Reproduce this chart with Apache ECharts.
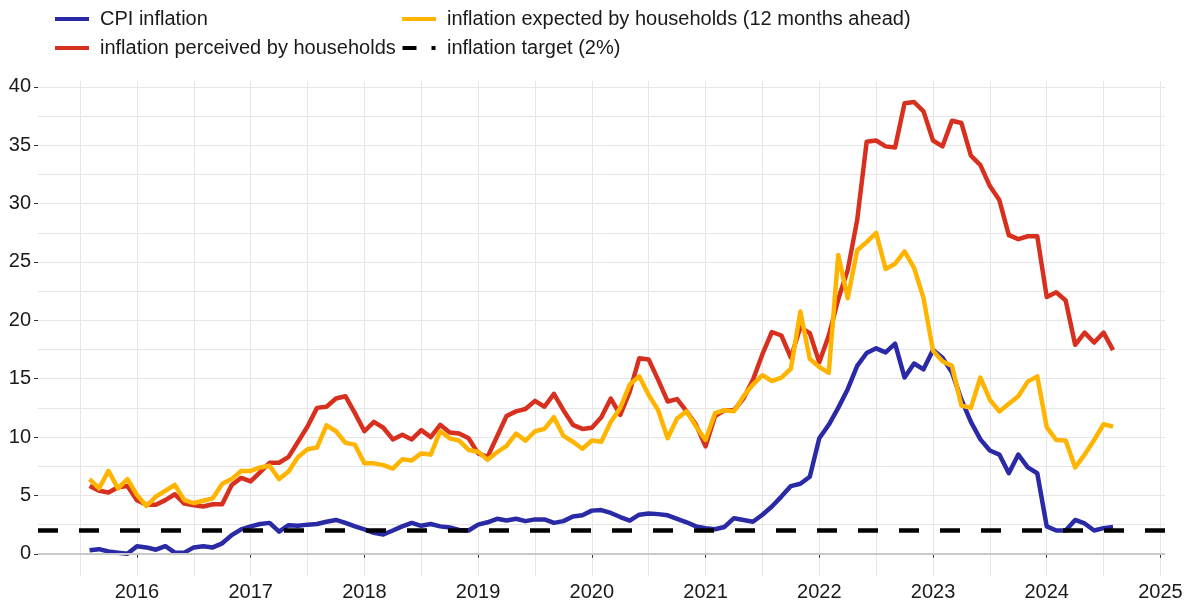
<!DOCTYPE html>
<html>
<head>
<meta charset="utf-8">
<title>Inflation perceived and expected by households</title>
<script src="https://cdn.jsdelivr.net/npm/echarts@6/dist/echarts.min.js"></script>
<style>
  html, body { margin: 0; padding: 0; background: #fff; }
  #main { width: 1190px; height: 602px; }
</style>
</head>
<body>
<div id="main"></div>
<script type="text/javascript">
// monthly observations, Aug 2015 .. Aug 2024
var startYear = 2015, startMonth = 8, nMonths = 109;
var months = [];
for (var i = 0; i < nMonths; i++) {
  var m = startMonth - 1 + i;
  var y = startYear + Math.floor(m / 12);
  var mm = (m % 12) + 1;
  months.push(y + '-' + (mm < 10 ? '0' + mm : mm));
}

var cpi = [0.3, 0.4, 0.2, 0.1, 0.0, 0.65, 0.55, 0.35, 0.65, 0.1, 0.1, 0.55,
  0.65, 0.55, 0.9, 1.6, 2.1, 2.35, 2.55, 2.65, 1.9, 2.45, 2.4, 2.5,
  2.55, 2.75, 2.9, 2.65, 2.35, 2.1, 1.8, 1.65, 2.0, 2.35, 2.65, 2.4,
  2.55, 2.35, 2.25, 2.05, 2.0, 2.5, 2.7, 3.0, 2.85, 3.0, 2.8, 2.95,
  2.95, 2.65, 2.8, 3.2, 3.3, 3.7, 3.75, 3.5, 3.15, 2.85, 3.35, 3.45,
  3.4, 3.3, 3.0, 2.7, 2.35, 2.2, 2.1, 2.3, 3.05, 2.9, 2.75, 3.35,
  4.05, 4.9, 5.8, 6.0, 6.6, 9.9, 11.05, 12.5, 14.1, 16.1, 17.2, 17.6,
  17.25, 18.0, 15.1, 16.3, 15.8, 17.45, 16.8, 15.55, 13.2, 11.3, 9.8, 8.85,
  8.5, 6.9, 8.5, 7.4, 6.9, 2.35, 2.0, 2.0, 2.9, 2.6, 2.0, 2.2, 2.3];

var perceived = [5.8, 5.4, 5.25, 5.7, 5.8, 4.6, 4.2, 4.2, 4.6, 5.1, 4.3, 4.15,
  4.05, 4.25, 4.25, 5.9, 6.5, 6.2, 7.0, 7.8, 7.8, 8.3, 9.6, 10.9,
  12.5, 12.6, 13.3, 13.5, 12.05, 10.5, 11.3, 10.8, 9.8, 10.2, 9.8, 10.6,
  10.0, 11.05, 10.4, 10.3, 9.9, 8.6, 8.3, 10.05, 11.8, 12.2, 12.4, 13.1,
  12.6, 13.7, 12.3, 11.05, 10.7, 10.8, 11.7, 13.3, 11.9, 13.9, 16.75, 16.65,
  14.9, 13.05, 13.25, 12.2, 11.05, 9.2, 11.8, 12.3, 12.3, 13.3, 14.9, 17.1,
  19.0, 18.7, 16.8, 19.4, 18.9, 16.4, 18.7, 21.8, 24.3, 28.6, 35.3, 35.4,
  34.9, 34.8, 38.6, 38.7, 37.9, 35.4, 34.9, 37.1, 36.9, 34.1, 33.3, 31.5,
  30.3, 27.3, 26.95, 27.2, 27.2, 22.0, 22.4, 21.7, 17.9, 18.95, 18.1, 18.95, 17.45];

var expected = [6.4, 5.6, 7.1, 5.6, 6.4, 5.05, 4.1, 4.9, 5.4, 5.9, 4.6, 4.35,
  4.55, 4.75, 6.0, 6.4, 7.1, 7.1, 7.4, 7.55, 6.4, 7.05, 8.3, 8.95,
  9.1, 11.0, 10.5, 9.5, 9.35, 7.75, 7.75, 7.6, 7.3, 8.1, 8.0, 8.6,
  8.5, 10.5, 9.9, 9.7, 8.9, 8.75, 8.05, 8.7, 9.25, 10.3, 9.7, 10.5,
  10.7, 11.7, 10.1, 9.6, 9.0, 9.7, 9.6, 11.3, 12.5, 14.5, 15.2, 13.6,
  12.3, 9.9, 11.6, 12.2, 10.9, 9.75, 12.05, 12.3, 12.2, 13.5, 14.5, 15.3,
  14.8, 15.1, 15.85, 20.75, 16.7, 16.0, 15.5, 25.6, 21.9, 26.0, 26.7, 27.5,
  24.4, 24.85, 25.9, 24.5, 21.9, 17.4, 16.5, 16.1, 12.7, 12.5, 15.1, 13.2,
  12.2, 12.85, 13.5, 14.75, 15.2, 10.85, 9.75, 9.7, 7.4, 8.5, 9.75, 11.1, 10.9];

var target = 2;
var yearTicks = [2016, 2017, 2018, 2019, 2020, 2021, 2022, 2023, 2024, 2025];
var xGrid = [2015.5, 2016, 2016.5, 2017, 2017.5, 2018, 2018.5, 2019, 2019.5, 2020,
  2020.5, 2021, 2021.5, 2022, 2022.5, 2023, 2023.5, 2024, 2024.5, 2025];
var yTicks = [0, 5, 10, 15, 20, 25, 30, 35, 40];
var yGrid = [0, 2.5, 5, 7.5, 10, 12.5, 15, 17.5, 20, 22.5, 25, 27.5, 30, 32.5, 35, 37.5, 40];

function toYear(s) {
  var p = s.split('-');
  return Number(p[0]) + (Number(p[1]) - 1) / 12;
}
function pairs(arr) {
  return arr.map(function (v, i) { return [toYear(months[i]), v]; });
}

var FONT = "'Liberation Sans', Arial, sans-serif";
var FS = 20;
var xMin = 2015.13, xMax = 2025.04, yMin = -1.9, yMax = 40.5;

var myChart = echarts.init(document.getElementById('main'), null, { renderer: 'canvas' });

var lineStyleOf = function (c) { return { color: c, width: 4.5, join: 'round' }; };

var legendText = { fontFamily: FONT, fontSize: FS, color: '#1a1a1a', lineHeight: 22, padding: [0, 0, 0, 6] };

var option = {
  animation: false,
  backgroundColor: '#ffffff',
  textStyle: { fontFamily: FONT },
  grid: { left: 38, right: 25, top: 81, bottom: 26, containLabel: false, outerBoundsMode: 'none' },
  legend: [{
    orient: 'vertical',
    left: 55, top: 8, padding: 0,
    itemWidth: 34, itemHeight: 4, itemGap: 7,
    icon: 'rect',
    textStyle: legendText,
    data: ['CPI inflation', 'inflation perceived by households']
  }, {
    orient: 'vertical',
    left: 402, top: 8, padding: 0,
    itemWidth: 34, itemHeight: 4, itemGap: 7,
    textStyle: legendText,
    data: [
      { name: 'inflation expected by households (12 months ahead)', icon: 'rect' },
      { name: 'inflation target (2%)', icon: 'path://M0,0h14v4h-14z M29,0h4v4h-4z' }
    ]
  }],
  xAxis: [{
    type: 'value', min: xMin, max: xMax,
    axisLine: { show: false },
    axisTick: { show: false, customValues: xGrid },
    axisLabel: { show: false },
    splitLine: { show: true, lineStyle: { color: '#e6e6e6', width: 1 } }
  }, {
    type: 'value', min: xMin, max: xMax, position: 'bottom',
    axisLine: { show: false },
    axisTick: { show: true, customValues: yearTicks, length: 4, lineStyle: { color: '#333', width: 1 } },
    axisLabel: {
      customValues: yearTicks, margin: 6,
      fontFamily: FONT, fontSize: FS, color: '#1a1a1a',
      formatter: function (v) { return String(Math.round(v)); }
    },
    splitLine: { show: false }
  }],
  yAxis: [{
    type: 'value', min: yMin, max: yMax,
    axisLine: { show: false },
    axisTick: { show: false, customValues: yGrid },
    axisLabel: { show: false },
    splitLine: { show: true, lineStyle: { color: '#e6e6e6', width: 1 } }
  }, {
    type: 'value', min: yMin, max: yMax, position: 'left',
    axisLine: { show: false },
    axisTick: { show: true, customValues: yTicks, length: 4, lineStyle: { color: '#333', width: 1 } },
    axisLabel: {
      customValues: yTicks, margin: 7,
      fontFamily: FONT, fontSize: FS, color: '#1a1a1a'
    },
    splitLine: { show: false }
  }],
  series: [{
    name: 'CPI inflation',
    type: 'line',
    data: pairs(cpi),
    showSymbol: false,
    color: '#2a2aa6',
    lineStyle: lineStyleOf('#2a2aa6'),
    markLine: {
      silent: true, symbol: 'none', label: { show: false },
      lineStyle: { color: '#c8c8c8', width: 2, type: 'solid' },
      data: [{ yAxis: 0 }]
    },
    z: 3
  }, {
    name: 'inflation perceived by households',
    type: 'line',
    data: pairs(perceived),
    showSymbol: false,
    color: '#d8301f',
    lineStyle: lineStyleOf('#d8301f'),
    z: 3
  }, {
    name: 'inflation expected by households (12 months ahead)',
    type: 'line',
    data: pairs(expected),
    showSymbol: false,
    color: '#ffb400',
    lineStyle: lineStyleOf('#ffb400'),
    z: 3
  }, {
    name: 'inflation target (2%)',
    type: 'line',
    data: [],
    color: '#000000',
    lineStyle: { color: '#000', width: 4.5 },
    markLine: {
      silent: true, symbol: 'none', label: { show: false },
      lineStyle: { color: '#000000', width: 4.5, type: [20, 21] },
      data: [{ yAxis: target }]
    },
    z: 5
  }]
};
myChart.setOption(option);
</script>
</body>
</html>
